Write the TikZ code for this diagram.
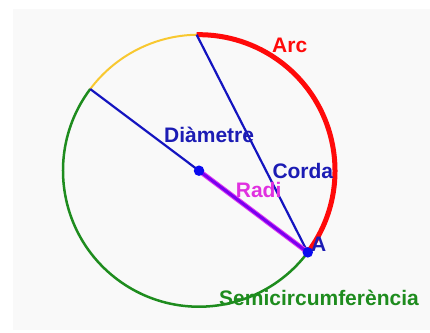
\documentclass[tikz,border=0pt]{standalone}
\usepackage{fontspec}
\setmainfont{Liberation Sans}
\usetikzlibrary{calc}
\definecolor{bgc}{HTML}{F9F9F9}
\definecolor{lblue}{HTML}{1414C0}
\definecolor{tblue}{HTML}{1C1CB4}
\definecolor{arcred}{HTML}{FF0A0A}
\definecolor{arcgreen}{HTML}{1E8C1E}
\definecolor{arcyellow}{HTML}{F8C830}
\definecolor{radviolet}{HTML}{7A00F0}
\definecolor{radmag}{HTML}{E040F0}
\definecolor{tmag}{HTML}{E030E0}
\definecolor{dotblue}{HTML}{0A0AF0}
\begin{document}
\begin{tikzpicture}[x=1pt,y=1pt,
  lbl/.style={anchor=base west,inner sep=0pt,font=\bfseries\fontsize{21}{24}\selectfont},
  seg/.style={draw=lblue,line width=2.2pt},
  dotnode/.style={circle,fill=dotblue,inner sep=0pt,minimum size=10.5pt}]
\useasboundingbox (0,0) rectangle (430,332);
\fill[white] (0,0) rectangle (430,332);
\fill[bgc] (13,2) rectangle (430,323);
\coordinate (O) at (199,161.3);
\coordinate (A) at ($(O)+(-36.9:136pt)$);
\coordinate (B) at ($(O)+(143.1:136pt)$);
\coordinate (C) at ($(O)+(91:136pt)$);
% arcs
\draw[arcyellow,line width=2pt] (C) arc[start angle=91,end angle=143.1,radius=136];
\draw[arcgreen,line width=2.5pt] (B) arc[start angle=143.1,end angle=323.1,radius=136];
\draw[arcred,line width=5pt] (A) arc[start angle=-36.9,end angle=91,radius=136];
% segments
\draw[seg] (B) -- (O);
\draw[seg] (C) -- (A);
\draw[radmag,line width=5pt] (O) -- (A);
\draw[radviolet,line width=3pt] (O) -- (A);
% points
\node[dotnode] (Odot) at (O) {};
\node[dotnode] (Adot) at (A) {};
% labels
\node[lbl,text=arcred] (larc) at (272,279) {Arc};
\node[lbl,text=tblue] (ldiam) at (164,189.3) {Diàmetre};
\node[lbl,text=tblue] (lcorda) at (272.3,153.7) {Corda};
\node[lbl,text=tmag] (lradi) at (235.7,135) {Radi};
\node[lbl,text=tblue] (lA) at (311,81) {A};
\node[lbl,text=arcgreen] (lsemi) at (219,27) {Semicircumferència};
\end{tikzpicture}
\end{document}
